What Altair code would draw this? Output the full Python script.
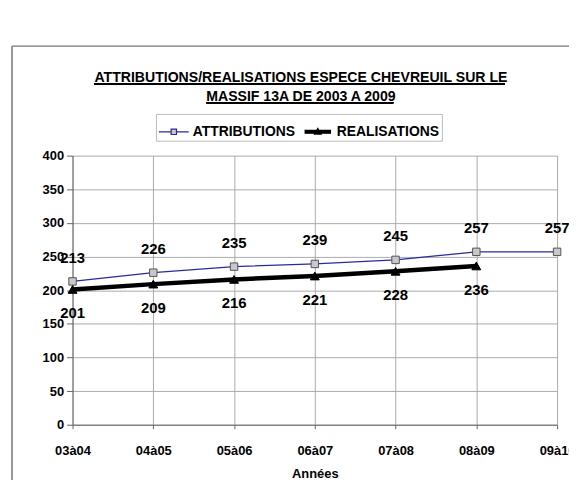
import altair as alt
import pandas as pd

cats = ["03à04", "04à05", "05à06", "06à07", "07à08", "08à09", "09à10"]
attributions = [213, 226, 235, 239, 245, 257, 257]
realisations = [201, 209, 216, 221, 228, 236, None]
series = ["ATTRIBUTIONS", "REALISATIONS"]
y_ticks = [0, 50, 100, 150, 200, 250, 300, 350, 400]
title_lines = ["ATTRIBUTIONS/REALISATIONS ESPECE CHEVREUIL SUR LE", "MASSIF 13A DE 2003 A 2009"]

rows = []
for c, a, r in zip(cats, attributions, realisations):
    rows.append({"annee": c, "serie": series[0], "valeur": a})
    if r is not None:
        rows.append({"annee": c, "serie": series[1], "valeur": r})
df = pd.DataFrame(rows)

FONT = "Liberation Sans, Arial, sans-serif"

x_enc = alt.X("annee:N", sort=cats,
              scale=alt.Scale(type="point", domain=cats, padding=0),
              axis=alt.Axis(title="Années", labelAngle=0, tickSize=4, labelPadding=16,
                            titlePadding=10, domainColor="#666", tickColor="#666",
                            gridColor="#aaa", grid=True))
y_enc = alt.Y("valeur:Q", scale=alt.Scale(domain=[0, 400], nice=False),
              axis=alt.Axis(title=None, values=y_ticks, tickSize=6, labelPadding=3,
                            domainColor="#666", tickColor="#666", gridColor="#aaa"))

base = alt.Chart(df).encode(x=x_enc, y=y_enc)

line = base.mark_line().encode(
    color=alt.Color("serie:N", scale=alt.Scale(domain=series, range=["#2a2aa0", "#000000"]), legend=None),
    strokeWidth=alt.StrokeWidth("serie:N", scale=alt.Scale(domain=series, range=[1.3, 4.5]), legend=None),
)

points = base.mark_point(filled=True, opacity=1).encode(
    shape=alt.Shape("serie:N", scale=alt.Scale(domain=series, range=["square", "triangle-up"]), legend=None),
    fill=alt.Fill("serie:N", scale=alt.Scale(domain=series, range=["#c8c8c8", "#000000"]), legend=None),
    stroke=alt.Stroke("serie:N", scale=alt.Scale(domain=series, range=["#555555", "#000000"]), legend=None),
    size=alt.Size("serie:N", scale=alt.Scale(domain=series, range=[56, 80]), legend=None),
    strokeWidth=alt.value(1),
)

legend_paths = ["M-1,0H-0.18M0.18,0H1M-0.18,-0.18H0.18V0.18H-0.18Z",
                "M-0.85,-0.09H0.85V0.09H-0.85ZM-0.22,0.15L0,-0.22L0.22,0.15Z"]
leg = alt.Legend(orient="none", legendX=84, legendY=-42, direction="horizontal", title=None,
                 labelFont=FONT, labelFontSize=14, labelFontWeight="bold", labelColor="black",
                 symbolSize=900, symbolStrokeWidth=1.2, symbolOpacity=1,
                 strokeColor="#bbb", padding=2, columnPadding=6, labelOffset=3)
legend_layer = base.transform_filter("false").mark_point(filled=True, strokeWidth=1.2).encode(
    shape=alt.Shape("serie:N", scale=alt.Scale(domain=series, range=legend_paths), legend=leg),
    fill=alt.Fill("serie:N", scale=alt.Scale(domain=series, range=["#c8c8c8", "#000000"]), legend=leg),
    stroke=alt.Stroke("serie:N", scale=alt.Scale(domain=series, range=["#2a2aa0", "#000000"]), legend=leg),
)

text_a = base.transform_filter(alt.datum.serie == series[0]).mark_text(
    dy=-24, font=FONT, fontSize=15, fontWeight="bold", color="black", baseline="middle"
).encode(text="valeur:Q")
text_r = base.transform_filter(alt.datum.serie == series[1]).mark_text(
    dy=24, font=FONT, fontSize=15, fontWeight="bold", color="black", baseline="middle"
).encode(text="valeur:Q")

# decorations: frame border and title underlines
frame_v = alt.Chart(df).mark_rule(color="#999", strokeWidth=1).encode(
    x=alt.value(-61), y=alt.value(-110), y2=alt.value(400))
frame_h = alt.Chart(df).mark_rule(color="#999", strokeWidth=1).encode(
    x=alt.value(-61), x2=alt.value(700), y=alt.value(-110))
ul1 = alt.Chart(df).mark_rule(color="black", strokeWidth=1.2).encode(
    x=alt.value(22), x2=alt.value(435), y=alt.value(-72.3))
ul2 = alt.Chart(df).mark_rule(color="black", strokeWidth=1.2).encode(
    x=alt.value(135), x2=alt.value(323), y=alt.value(-53.3))

chart = alt.layer(frame_v, frame_h, ul1, ul2, line, points, legend_layer, text_a, text_r).resolve_scale(
    shape="independent", fill="independent", stroke="independent"
).properties(
    width=488, height=271,
    title=alt.TitleParams(text=title_lines, font=FONT, fontSize=14.2, fontWeight="bold",
                          color="black", lineHeight=19.5, offset=-59, anchor="middle",
                          frame="group", dx=-14),
    autosize=alt.AutoSizeParams(type="none"),
    padding={"left": 65, "top": 147, "right": 12, "bottom": 54},
).configure_axis(
    labelFont=FONT, labelFontSize=13, labelFontWeight="bold", labelColor="black",
    titleFont=FONT, titleFontSize=13, titleFontWeight="bold", titleColor="black",
).configure_view(stroke=None)

chart.save("out.html", embed_options={"renderer": "svg", "actions": False})
